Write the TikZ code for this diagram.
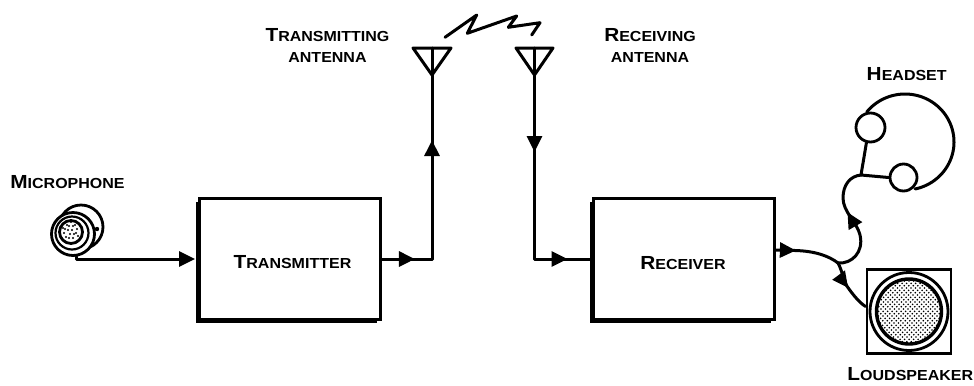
\documentclass[tikz,border=0pt]{standalone}
\usepackage{fontspec}
\newfontfamily\lblfont{Liberation Sans}[FakeStretch=1.1]
\usetikzlibrary{arrows.meta,decorations.markings,shadows}

% small-caps style word: large initial, smaller capitals after it
\newcommand\scw[2]{{\fontsize{19}{21}\selectfont #1}{\fontsize{14.6}{17}\selectfont #2}}

\tikzset{
  bigtip/.tip={Triangle[length=16bp,width=15bp]},
  conn/.style={line width=3bp, line join=round, line cap=round},
  lbl/.style={font=\lblfont\bfseries, inner sep=0pt, anchor=base},
  blk/.style={draw, line width=2.8bp, fill=white, minimum width=181bp,
    minimum height=121bp, inner sep=0pt,
    drop shadow={shadow xshift=-3.5bp, shadow yshift=-3.5bp, fill=black, opacity=1}},
  arrowsat/.style 2 args={postaction={decorate,decoration={markings,
    mark=at position #1 with {\arrow{bigtip}},
    mark=at position #2 with {\arrow{bigtip}}}}},
  arrowat/.style={postaction={decorate,decoration={markings,
    mark=at position #1 with {\arrow{bigtip}}}}},
  ring/.style={draw, circle, line width=2.8bp, fill=white, inner sep=0pt},
}

\begin{document}
\begin{tikzpicture}[x=1bp,y=-1bp]
\useasboundingbox (0,0) rectangle (974,385);

% ---------- microphone ----------
\node[ring, minimum size=44bp] (micback) at (81,227) {};
\node[ring, minimum size=43bp] (mic) at (73,234) {};
\node[circle, draw, line width=2.2bp, minimum size=33bp, inner sep=0pt] (micring) at (72,233) {};
\node[ring, minimum size=23bp] (grille) at (71,232) {};
\fill (97,229) circle (2.2);
\foreach \dx/\dy in {-6/-3,-2/-6,2/-6,6/-3,-7/1,-3/-2,1/-2,5/1,-5/5,-1/2,3/2,7/4,-2/6,2/6,-4/-7,4/-7,0/-10,-8/-4}
  \fill ({71+\dx},{232+\dy}) circle (1.1);

% ---------- blocks ----------
\node[blk] (tx) at (290,259) {};
\node[lbl] (txlbl) at (292.5,268.5) {\scw{T}{RANSMITTER}};
\node[blk] (rx) at (684,259) {};
\node[lbl] (rxlbl) at (683,269.3) {\scw{R}{ECEIVER}};

% ---------- antennas ----------
\coordinate (ta) at (432,48);
\coordinate (ra) at (534.5,48);
\draw[conn] (413,48) -- (451,48) -- (432,75) -- cycle;
\draw[conn] (516,48) -- (553,48) -- (534.5,75) -- cycle;

% radio link
\draw[conn] (445,37.3) -- (476.7,15) -- (467.3,33.3) -- (516.7,16)
  -- (508.3,27.3) -- (540,22.7) -- (531.7,35);

% ---------- signal path ----------
\draw[conn, -{bigtip}, shorten >=3bp] (mic.-80) |- (tx.west);
\draw[conn, arrowsat={33bp}{169bp}] (tx.east) -| (ta);
\draw[conn, arrowsat={104bp}{244bp}] (ra) |- (rx.west);

% ---------- headset ----------
\node[ring, minimum size=29bp] (cup1) at (870.5,127.5) {};
\node[ring, minimum size=27bp] (cup2) at (903.5,177.5) {};
\draw[conn] plot[domain=218.6:438, samples=80, smooth] ({905+49*cos(\x)},{142+48*sin(\x)});
\coordinate (j1) at (861,175);
\draw[conn] (cup1.255) -- (j1) -- (cup2.west);

% ---------- loudspeaker ----------
\node[draw, line width=2.8bp, minimum size=84bp, inner sep=0pt] (spk) at (909,311.5) {};
\node[circle, draw, line width=2.8bp, minimum size=78bp, inner sep=0pt] (cone) at (909,311.5) {};
\begin{scope}
  \clip (909,311.5) circle (32.5);
  \foreach \k in {-80,-75.5,...,80}
    \draw[line width=1.3bp, dash pattern=on 1.3bp off 2bp]
      ({909+\k-40},{311.5+40}) -- ({909+\k+40},{311.5-40});
\end{scope}
\node[circle, draw, line width=3.4bp, minimum size=65bp, inner sep=0pt] (dome) at (909,311.5) {};

% ---------- receiver output split ----------
\coordinate (j2) at (838,263);
\draw[conn, arrowat=20bp] ([yshift=9bp]rx.east) -- (795,250.5)
  .. controls (815,251) and (829,256) .. (j2);
\draw[conn, arrowat=68bp] (j2) .. controls (852,264) and (864,252) .. (860,235)
  .. controls (857,222) and (843,212) .. (843,198)
  .. controls (843,185) and (850,176) .. (j1);
\draw[conn, arrowat=27bp] (j2) .. controls (843,272) and (843,282) .. (849,289)
  .. controls (854,296) and (860,303) .. ([yshift=5bp]spk.west);

% ---------- labels ----------
\node[lbl] (miclbl) at (67.5,188.3) {\scw{M}{ICROPHONE}};
\node[lbl] (talbl1) at (327.5,41) {\scw{T}{RANSMITTING}};
\node[lbl] (talbl2) at (327.5,62) {\scw{}{ANTENNA}};
\node[lbl] (ralbl1) at (650,41) {\scw{R}{ECEIVING}};
\node[lbl] (ralbl2) at (650,62) {\scw{}{ANTENNA}};
\node[lbl] (hslbl) at (906.7,80.7) {\scw{H}{EADSET}};
\node[lbl] (lslbl) at (910.3,380) {\scw{L}{OUDSPEAKER}};
\end{tikzpicture}
\end{document}
